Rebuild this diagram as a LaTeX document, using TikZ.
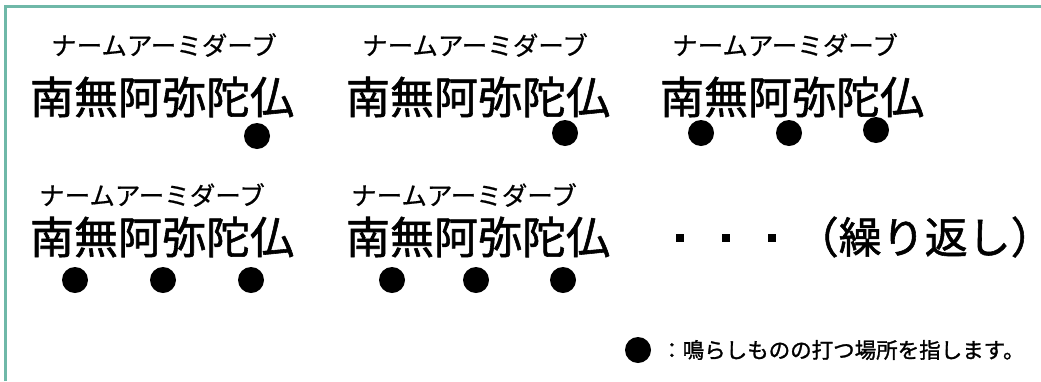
\documentclass[tikz,border=0pt]{standalone}
\usepackage{fontspec}
\newfontfamily\jp{Noto Sans CJK JP}
\newfontfamily\jpm[FakeBold=1.3]{Noto Sans CJK JP}
\newfontfamily\jph[FakeBold=1.3,RawFeature=+halt]{Noto Sans CJK JP}
\newfontfamily\jpl[FakeBold=0.6]{Noto Sans CJK JP}
\definecolor{frame}{HTML}{6FB8A8}
\tikzset{
  big/.style={inner sep=0pt, font=\jpm\fontsize{44}{44}\selectfont},
  ruby/.style={inner sep=0pt, font=\jpl\fontsize{25.5}{25.5}\selectfont},
  note/.style={inner sep=0pt, anchor=west, font=\jpm\fontsize{21.5}{21.5}\selectfont},
  beat/.style={circle, fill=black, inner sep=0pt, minimum size=26pt},
  sq/.style={fill=black, inner sep=0pt, minimum size=8pt},
}
\begin{document}
\begin{tikzpicture}[x=1pt,y=-1pt]
\useasboundingbox (0,0) rectangle (1041,381);
\draw[frame, line width=2.5pt] (5.5,381) -- (5.5,6.5) -- (1041,6.5);
% row 1
\node[ruby] (r1) at (164,45) {ナームアーミダーブ};
\node[big]  (k1) at (162,97) {南無阿弥陀仏};
\node[beat] (d1a) at (257,136) {};
\node[ruby] (r2) at (475,45) {ナームアーミダーブ};
\node[big]  (k2) at (478,97) {南無阿弥陀仏};
\node[beat] (d2a) at (565,133) {};
\node[ruby] (r3) at (785,45) {ナームアーミダーブ};
\node[big]  (k3) at (792,97) {南無阿弥陀仏};
\node[beat] (d3a) at (701,133) {};
\node[beat] (d3b) at (789,133) {};
\node[beat] (d3c) at (876,130) {};
% row 2
\node[ruby] (r4) at (152,195) {ナームアーミダーブ};
\node[big]  (k4) at (162,237) {南無阿弥陀仏};
\node[beat] (d4a) at (75,280) {};
\node[beat] (d4b) at (163,280) {};
\node[beat] (d4c) at (251,280) {};
\node[ruby] (r5) at (464,195) {ナームアーミダーブ};
\node[big]  (k5) at (478,237) {南無阿弥陀仏};
\node[beat] (d5a) at (392,280) {};
\node[beat] (d5b) at (476,280) {};
\node[beat] (d5c) at (563,280) {};
% repeat
\node[sq] (s1) at (680,237.5) {};
\node[sq] (s2) at (726,237.5) {};
\node[sq] (s3) at (772,237.5) {};
\node[inner sep=0pt, anchor=west, font=\jph\fontsize{43}{43}\selectfont] (rep) at (817,237) {（繰り返し）};
% legend
\node[beat] (ld) at (638,350) {};
\node[note] (lt) at (661,350) {：鳴らしものの打つ場所を指します。};
\end{tikzpicture}
\end{document}
